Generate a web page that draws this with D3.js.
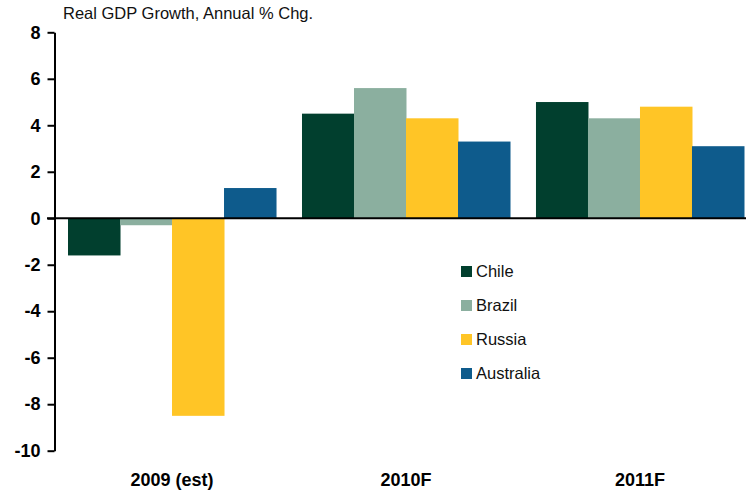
<!DOCTYPE html>
<html>
<head>
<meta charset="utf-8">
<script src="https://cdn.jsdelivr.net/npm/d3@7"></script>
<style>
  body { margin: 0; background: #fff; }
  text { font-family: Arial, "Liberation Sans", sans-serif; }
</style>
</head>
<body>
<svg id="chart" width="746" height="490"></svg>
<script>
// data
var years = ["2009 (est)", "2010F", "2011F"];
var countries = ["Chile", "Brazil", "Russia", "Australia"];
var chile = [-1.6, 4.5, 5.0];
var brazil = [-0.3, 5.6, 4.3];
var russia = [-8.5, 4.3, 4.8];
var australia = [1.3, 3.3, 3.1];
var yTicks = [-10, -8, -6, -4, -2, 0, 2, 4, 6, 8];
var colors = ["#013f2e", "#8baf9f", "#ffc526", "#0e5b8c"];

var series = [chile, brazil, russia, australia];

var svg = d3.select("#chart");

var y = d3.scaleLinear()
    .domain([-10, 8])
    .range([450.7, 32.3]);

var x0 = d3.scaleBand()
    .domain(years)
    .range([55, 757])
    .paddingInner(0.111)
    .paddingOuter(0.0556);

var x1 = d3.scaleBand()
    .domain(countries)
    .range([0, x0.bandwidth()]);

// bars
var groups = svg.selectAll("g.year")
    .data(years)
    .enter().append("g")
    .attr("class", "year")
    .attr("transform", function(d) { return "translate(" + x0(d) + ",0)"; });

groups.selectAll("rect")
    .data(function(d, i) {
        return countries.map(function(c, j) {
            return {country: c, value: series[j][i], color: colors[j]};
        });
    })
    .enter().append("rect")
    .attr("x", function(d) { return x1(d.country); })
    .attr("width", x1.bandwidth() + 0.5)
    .attr("y", function(d) { return y(Math.max(0, d.value)); })
    .attr("height", function(d) { return Math.abs(y(d.value) - y(0)); })
    .attr("fill", function(d) { return d.color; });

// zero line
svg.append("line")
    .attr("x1", 47).attr("x2", 746)
    .attr("y1", y(0)).attr("y2", y(0))
    .attr("stroke", "#000")
    .attr("stroke-width", 2);

// y axis
var yAxis = svg.append("g")
    .attr("transform", "translate(54.5,0)")
    .call(d3.axisLeft(y).tickValues(yTicks).tickSize(7).tickPadding(7).tickSizeOuter(0)
        .tickFormat(function(d) { return String(d); }));

yAxis.select(".domain").attr("stroke", "#000").attr("stroke-width", 2);
yAxis.selectAll(".tick line").attr("stroke", "#000").attr("stroke-width", 2);
yAxis.selectAll(".tick text")
    .attr("fill", "#000")
    .style("font-size", "18px")
    .style("font-weight", "bold")
    .style("font-family", "Arial, 'Liberation Sans', sans-serif");

// x labels
svg.selectAll("text.xlab")
    .data(years)
    .enter().append("text")
    .attr("class", "xlab")
    .attr("x", function(d) { return x0(d) + x0.bandwidth() / 2; })
    .attr("y", 486)
    .attr("text-anchor", "middle")
    .style("font-size", "18px")
    .style("font-weight", "bold")
    .text(function(d) { return d; });

// title
svg.append("text")
    .attr("x", 63)
    .attr("y", 19)
    .style("font-size", "16.5px")
    .attr("fill", "#111")
    .text("Real GDP Growth, Annual % Chg.");

// legend
var legend = svg.selectAll("g.legend")
    .data(countries)
    .enter().append("g")
    .attr("class", "legend")
    .attr("transform", function(d, i) { return "translate(461," + (266 + i * 34) + ")"; });

legend.append("rect")
    .attr("width", 11)
    .attr("height", 11)
    .attr("fill", function(d, i) { return colors[i]; });

legend.append("text")
    .attr("x", 15)
    .attr("y", 11)
    .style("font-size", "16.5px")
    .attr("fill", "#111")
    .text(function(d) { return d; });
</script>
</body>
</html>
